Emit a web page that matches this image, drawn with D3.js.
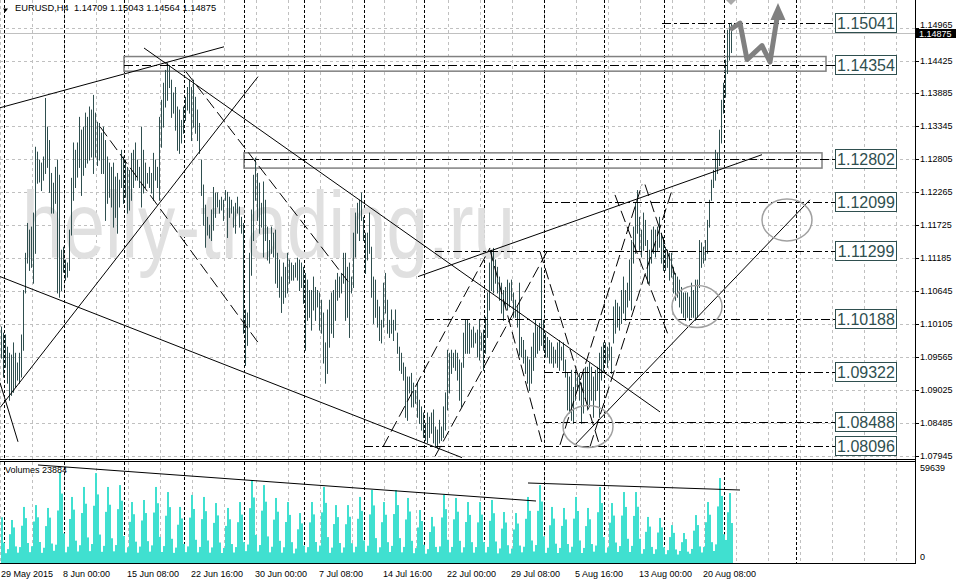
<!DOCTYPE html>
<html>
<head>
<meta charset="utf-8">
<script src="https://cdn.jsdelivr.net/npm/d3@7"></script>
<style>
body { margin: 0; background: #fff; }
svg { display: block; }
</style>
</head>
<body>
<script>
// EURUSD H4 bars, 29 May 2015 16:00 .. 24 Aug 2015 12:00
var highs = [1.1006,1.0996,1.0993,1.0973,1.0963,1.0960,1.0980,1.0963,1.0947,1.0963,1.0993,1.1066,1.1127,1.1176,1.1165,1.1170,1.1193,1.1301,1.1293,1.1280,1.1275,1.1285,1.1381,1.1334,1.1312,
1.1258,1.1242,1.1268,1.1280,1.1255,1.1132,1.1137,1.1116,1.1111,1.1165,1.1250,1.1308,1.1296,1.1308,1.1350,1.1329,1.1334,1.1357,1.1350,1.1367,1.1362,1.1386,1.1357,1.1342,1.1340,
1.1324,1.1334,1.1312,1.1285,1.1275,1.1268,1.1275,1.1252,1.1258,1.1247,1.1296,1.1285,1.1280,1.1268,1.1263,1.1291,1.1296,1.1308,1.1280,1.1268,1.1334,1.1296,1.1275,1.1258,1.1268,
1.1258,1.1291,1.1280,1.1268,1.1350,1.1378,1.1406,1.1427,1.1439,1.1435,1.1411,1.1390,1.1399,1.1367,1.1362,1.1345,1.1367,1.1383,1.1399,1.1411,1.1399,1.1411,1.1383,1.1362,1.1340,
1.1280,1.1239,1.1206,1.1186,1.1173,1.1198,1.1235,1.1226,1.1226,1.1214,1.1219,1.1214,1.1230,1.1227,1.1219,1.1214,1.1203,1.1209,1.1219,1.1203,1.1186,1.1176,1.1034,1.1029,1.1127,
1.1198,1.1255,1.1283,1.1258,1.1242,1.1209,1.1244,1.1214,1.1170,1.1148,1.1170,1.1160,1.1165,1.1127,1.1116,1.1088,1.1111,1.1104,1.1127,1.1116,1.1111,1.1107,1.1111,1.1119,1.1116,
1.1111,1.1104,1.1094,1.1083,1.1066,1.1066,1.1088,1.1071,1.1066,1.1062,1.1050,1.1029,1.0980,1.1034,1.1050,1.1062,1.1066,1.1083,1.1094,1.1088,1.1094,1.1127,1.1127,1.1104,1.1111,
1.1088,1.1160,1.1193,1.1209,1.1214,1.1226,1.1186,1.1160,1.1160,1.1193,1.1137,1.1088,1.1083,1.1050,1.1039,1.1017,1.1078,1.1094,1.1050,1.1017,1.1034,1.1017,1.1034,1.0996,1.0973,
1.0963,1.0947,1.0940,1.0924,1.0924,1.0930,1.0914,1.0902,1.0914,1.0886,1.0875,1.0865,1.0848,1.0865,1.0858,1.0865,1.0870,1.0842,1.0837,1.0853,1.0842,1.0875,1.0898,1.0968,1.0963,
1.0968,1.0963,1.0968,1.0963,1.0952,1.0947,1.0996,1.1017,1.1017,1.1012,1.1001,1.1006,1.0996,1.1001,1.1017,1.0996,1.1001,1.1022,1.1062,1.1111,1.1132,1.1135,1.1116,1.1104,1.1088,
1.1078,1.1066,1.1071,1.1083,1.1078,1.1083,1.1062,1.1050,1.1039,1.1078,1.0989,1.0984,1.0968,1.0957,1.0952,1.0973,1.0996,1.1017,1.1006,1.1012,1.1103,1.1017,1.0996,1.0989,1.0984,
1.0980,1.0973,1.0968,1.0980,1.0984,1.0973,1.0980,1.0952,1.0930,1.0924,1.0935,1.0907,1.0935,1.0924,1.0930,1.0914,1.0930,1.0940,1.0940,1.0947,1.0940,1.0924,1.0935,1.0940,1.0963,
1.0973,1.0980,1.0980,1.0973,1.0980,1.0973,1.1039,1.1050,1.1045,1.1039,1.1066,1.1088,1.1066,1.1078,1.1116,1.1148,1.1170,1.1209,1.1230,1.1186,1.1165,1.1193,1.1181,1.1148,1.1132,
1.1165,1.1170,1.1165,1.1170,1.1186,1.1160,1.1153,1.1137,1.1132,1.1127,1.1127,1.1104,1.1094,1.1088,1.1083,1.1071,1.1062,1.1062,1.1062,1.1055,1.1078,1.1066,1.1083,1.1083,1.1148,
1.1144,1.1137,1.1148,1.1181,1.1214,1.1247,1.1263,1.1296,1.1291,1.1329,1.1378,1.1406,1.1444,1.1493,1.1503,1.15043];

var lows = [1.0955,1.0924,1.0940,1.0914,1.0886,1.0894,1.0899,1.0907,1.0919,1.0914,1.0924,1.0968,1.1062,1.1111,1.1099,1.1104,1.1078,1.1127,1.1242,1.1244,1.1230,1.1247,1.1258,1.1268,1.1227,
1.1193,1.1193,1.1209,1.1062,1.1055,1.1066,1.1096,1.1083,1.1088,1.1099,1.1157,1.1214,1.1235,1.1252,1.1268,1.1222,1.1255,1.1268,1.1275,1.1280,1.1285,1.1258,1.1285,1.1271,1.1280,
1.1258,1.1258,1.1181,1.1209,1.1219,1.1203,1.1170,1.1186,1.1160,1.1203,1.1235,1.1209,1.1219,1.1193,1.1198,1.1214,1.1235,1.1247,1.1247,1.1235,1.1203,1.1226,1.1235,1.1242,1.1235,
1.1226,1.1214,1.1247,1.1235,1.1214,1.1301,1.1334,1.1367,1.1378,1.1399,1.1350,1.1357,1.1329,1.1296,1.1291,1.1308,1.1324,1.1345,1.1362,1.1357,1.1312,1.1334,1.1324,1.1312,1.1291,
1.1222,1.1173,1.1137,1.1157,1.1152,1.1148,1.1165,1.1186,1.1203,1.1193,1.1198,1.1181,1.1214,1.1153,1.1186,1.1193,1.1170,1.1160,1.1193,1.1170,1.1160,1.0996,1.0943,1.0976,1.1006,
1.1091,1.1148,1.1214,1.1181,1.1160,1.1170,1.1121,1.1148,1.1116,1.1111,1.1127,1.1121,1.1078,1.1071,1.1055,1.1030,1.1045,1.1055,1.1062,1.1078,1.1083,1.1083,1.1088,1.1083,1.1066,
1.1071,1.1045,1.0968,1.1017,1.1022,1.1001,1.1034,1.1017,1.1039,1.1001,1.0996,1.0947,1.0914,1.0930,1.0973,1.0996,1.0989,1.1017,1.1050,1.1055,1.1062,1.1078,1.1017,1.1022,1.0989,
1.1062,1.1071,1.1121,1.1160,1.1148,1.1181,1.1148,1.1094,1.1116,1.1127,1.1055,1.1012,1.1022,1.1006,1.0984,1.0980,1.1006,1.1029,1.0996,1.0989,1.0996,1.0984,1.1001,1.0963,1.0935,
1.0930,1.0919,1.0858,1.0853,1.0898,1.0875,1.0875,1.0881,1.0858,1.0848,1.0837,1.0825,1.0820,1.0816,1.0825,1.0832,1.0816,1.0809,1.0807,1.0816,1.0820,1.0825,1.0837,1.0870,1.0898,
1.0930,1.0940,1.0935,1.0919,1.0886,1.0875,1.0940,1.0963,1.0963,1.0963,1.0973,1.0973,1.0980,1.0957,1.0952,1.0968,1.0935,1.0963,1.0989,1.1034,1.1066,1.1062,1.1078,1.1062,1.1050,
1.1029,1.1017,1.1039,1.1034,1.1039,1.1050,1.1022,1.1022,1.1006,1.0960,1.0957,1.0947,1.0930,1.0914,1.0902,1.0914,1.0935,1.0957,1.0963,1.0968,1.0976,1.0968,1.0957,1.0957,1.0947,
1.0947,1.0940,1.0947,1.0940,1.0935,1.0952,1.0935,1.0924,1.0870,1.0865,1.0853,1.0848,1.0886,1.0902,1.0886,1.0848,1.0865,1.0886,1.0870,1.0875,1.0886,1.0858,1.0886,1.0902,1.0858,
1.0919,1.0935,1.0947,1.0940,1.0952,1.0930,1.0980,1.0996,1.1006,1.1001,1.1012,1.1029,1.1017,1.1039,1.1050,1.1034,1.1111,1.1127,1.1160,1.1132,1.1121,1.1132,1.1140,1.1078,1.1078,
1.1111,1.1127,1.1121,1.1132,1.1137,1.1111,1.1099,1.1099,1.1104,1.1083,1.1088,1.1062,1.1050,1.1055,1.1039,1.1029,1.1022,1.1017,1.1022,1.1017,1.1022,1.1022,1.1017,1.1022,1.1071,
1.1104,1.1111,1.1116,1.1127,1.1170,1.1214,1.1235,1.1247,1.1258,1.1271,1.1308,1.1357,1.1383,1.1422,1.1444,1.14564];

var volumes = [27000,12000,
5800,8200,17000,25400,21000,9800, 6100,9400,22000,33100,26500,11800, 6400,9900,24500,34200,27000,12400,
6000,9000,21800,32500,26800,11500, 7200,10800,31000,53700,41000,17500, 6300,9600,26000,39000,31500,13200,
6800,10500,29500,44900,35000,15100, 7000,11200,33800,53100,40500,16800, 6600,10100,30200,44900,34400,14600,
6900,10600,31800,46000,36800,15900, 6200,9300,24300,36000,28800,12600, 6100,9700,25100,37200,29500,12900,
6700,10400,29800,44900,35300,15400, 6500,10000,27900,41900,33000,14300, 6000,9100,22600,33100,26300,11300,
6400,9800,26800,40200,31900,13700, 6300,9500,25900,39000,30600,13300, 6100,9200,23700,35400,28100,12100,
5900,8900,21900,32500,25800,11200, 6200,9400,24100,36000,28600,12300, 7000,10900,32400,49000,38700,16600,
6800,10600,30900,46000,36200,15700, 6300,9600,25600,38400,30300,13100, 6100,9300,24200,36000,28400,12300,
5700,8500,19900,29500,23400,10300, 6200,9400,24000,36000,28700,12400, 6700,10300,29900,44900,35500,15300,
6000,9100,23000,34200,27100,11800, 6100,9200,22900,34200,27300,11700, 6300,9600,26100,39000,30800,13300,
6600,10200,28700,43100,34000,14700, 6200,9300,24100,36000,28500,12300, 6500,10100,28900,43100,34200,14700,
6300,9500,25700,38400,30400,13100, 5800,8800,21000,31300,24800,10800, 5500,8200,18300,27200,21600,9500,
6400,9800,26900,40200,31800,13700, 6300,9500,25800,38400,30300,13100, 6200,9300,24200,36000,28400,12300,
6100,9400,24000,36000,28600,12300, 6200,9500,24900,37200,29400,12700, 5700,8600,20300,30100,23900,10500,
5600,8500,19800,29500,23300,10300, 6300,9600,26100,39000,30800,13300, 6800,10600,30800,46000,36300,15700,
6000,9000,22300,33100,26200,11400, 5900,8900,21900,32500,25700,11200, 6300,9600,26200,39000,30700,13300,
5900,8900,21800,32500,25800,11200, 6700,10300,30000,44900,35400,15300, 6100,9200,23800,35400,28000,12100,
6500,10000,28000,41900,33100,14300, 6500,10100,27800,41900,33200,14300, 5500,8200,18400,27200,21500,9500,
5400,8100,18000,26600,21000,9300, 5200,7600,15300,22400,17800,8000, 5000,7100,12300,17700,14100,6700,
5500,8300,19100,28300,22400,9800, 6200,9400,24100,36000,28500,12300, 7100,11000,33400,50200,39600,17000,
13600,30000,41300,23600];

var axisPrices = [1.14965,1.14425,1.13885,1.13345,1.12805,1.12265,1.11725,1.11185,1.10645,1.10105,1.09565,1.09025,1.08485,1.07945];
var timeLabels = ["29 May 2015","8 Jun 00:00","15 Jun 08:00","22 Jun 16:00","30 Jun 00:00","7 Jul 08:00","14 Jul 16:00","22 Jul 00:00","29 Jul 08:00","5 Aug 16:00","13 Aug 00:00","20 Aug 08:00"];
var timeLabelBars = [0,32,64,96,128,160,192,224,256,288,320,352];
var weekStarts = [2,32,62,92,122,152,182,212,242,272,302,332,362,398];

var levelPrices = [1.15041,1.14354,1.12802,1.12099,1.11299,1.10188,1.09322,1.08488,1.08096];
var levelStartBars = [330.5,61.5,121.5,271,217,212,271.5,271,181.5];

// zones drawn as rectangles: [bar1, price1, bar2, price2]
var zones = [[61.5,1.1449,412.5,1.1425],[121.5,1.1291,410.5,1.1266]];
// trend lines: [bar1, price1, bar2, price2]
var solidLines = [[-0.5,1.1365,111.5,1.1465],[-0.5,1.1088,230.5,1.0791],[-0.5,1.0873,128.5,1.1416],
  [-0.5,1.0914,8.5,1.0817],[71.5,1.1463,329.5,1.0866],[208.5,1.1088,380.5,1.1288],[287,1.0812,404.5,1.1214]];
var dashedLines = [[92.5,1.1424,173.5,1.1080],[49.5,1.1334,128.5,1.0980],[191,1.0809,244.5,1.1135],
  [217,1.0793,273,1.1129],[244.5,1.1132,271,1.0809],[269.5,1.1129,299.5,1.0809],[279.5,1.0812,320.5,1.1239],
  [294.5,1.0809,335.5,1.1230],[307,1.1222,333.5,1.0993],[322,1.1239,337,1.1091]];
var circles = [[293.5,1.0842],[348,1.1039],[393,1.1181]];
var forecast = [[364.5,1.1493],[369.5,1.1504],[373,1.1444],[380.5,1.1467],[384.5,1.1440],[388,1.1512]];
var forecastTip = [388.5,1.1537];
// volume trend lines: [bar1, vol1, bar2, vol2]
var volumeLines = [[18.5,57870,267.5,36610],[263.5,47240,369.5,43110]];

var lastBar = {open: 1.14709, high: 1.15043, low: 1.14564, close: 1.14875};
var volumeMax = 59639;
var volumeLast = 23884;

var width = 956;
var height = 580;
var plotRight = 915;
var mainBottom = 459;
var volTop = 462;
var volBottom = 563;
var font = "Liberation Sans, Arial, sans-serif";

var svg = d3.select("body").append("svg")
    .attr("width", width)
    .attr("height", height);

var xScale = d3.scaleLinear().domain([0, 1]).range([1, 3]);
var yScale = d3.scaleLinear().domain([1.07945, 1.14425]).range([455.5, 60.5]);
var vScale = d3.scaleLinear().domain([0, volumeMax]).range([volBottom, volTop]);

var defs = svg.append("defs");
defs.append("clipPath").attr("id", "clipMain").append("rect")
    .attr("x", 0).attr("y", 0).attr("width", plotRight).attr("height", mainBottom);
defs.append("clipPath").attr("id", "clipVol").append("rect")
    .attr("x", 0).attr("y", volTop).attr("width", plotRight).attr("height", volBottom - volTop);

function sepX(i) {
    return 2 * i + 0.5;
}

// grids in both panels
function drawGrid(g, top, bottom) {
    g.selectAll(".vgrid").data(d3.range(0, 450, 16)).enter().append("line")
        .attr("x1", sepX).attr("x2", sepX)
        .attr("y1", top).attr("y2", bottom)
        .attr("stroke", "#c0c0c0")
        .attr("stroke-dasharray", "3,3");
    g.selectAll(".sep").data(weekStarts).enter().append("line")
        .attr("x1", sepX).attr("x2", sepX)
        .attr("y1", top).attr("y2", bottom)
        .attr("stroke", "#000")
        .attr("stroke-dasharray", "3,2");
}

var mainG = svg.append("g").attr("clip-path", "url(#clipMain)");
var volG = svg.append("g").attr("clip-path", "url(#clipVol)");

mainG.selectAll(".hgrid").data(axisPrices).enter().append("line")
    .attr("x1", 0).attr("x2", plotRight)
    .attr("y1", function(d) { return Math.round(yScale(d)) + 0.5; })
    .attr("y2", function(d) { return Math.round(yScale(d)) + 0.5; })
    .attr("stroke", "#c0c0c0")
    .attr("stroke-dasharray", "3,3");
drawGrid(mainG, 0, mainBottom);
drawGrid(volG, volTop, volBottom);

// watermark
mainG.append("text")
    .attr("x", 22).attr("y", 258)
    .attr("font-family", font)
    .attr("font-size", 95)
    .attr("textLength", 493)
    .attr("lengthAdjust", "spacingAndGlyphs")
    .attr("fill", "#e0e0e0")
    .text("helly-trading.ru");

// bid line
mainG.append("line")
    .attr("x1", 0).attr("x2", plotRight)
    .attr("y1", Math.round(yScale(lastBar.close)) + 0.5)
    .attr("y2", Math.round(yScale(lastBar.close)) + 0.5)
    .attr("stroke", "#c0c0c0");

// zones
mainG.selectAll(".zone").data(zones).enter().append("rect")
    .attr("x", function(d) { return xScale(d[0]); })
    .attr("y", function(d) { return yScale(d[1]); })
    .attr("width", function(d) { return xScale(d[2]) - xScale(d[0]); })
    .attr("height", function(d) { return yScale(d[3]) - yScale(d[1]); })
    .attr("fill", "none")
    .attr("stroke", "#808080")
    .attr("stroke-width", 1.5);

// price bars
mainG.selectAll(".bar").data(highs).enter().append("line")
    .attr("x1", function(d, i) { return xScale(i) + 0.5; })
    .attr("x2", function(d, i) { return xScale(i) + 0.5; })
    .attr("y1", function(d) { return yScale(d); })
    .attr("y2", function(d, i) { return yScale(lows[i]) + 1; })
    .attr("stroke", "#2f4f4f");

// levels
var levelBoxX = 835;
mainG.selectAll(".level").data(levelPrices).enter().append("line")
    .attr("x1", function(d, i) { return xScale(levelStartBars[i]); })
    .attr("x2", levelBoxX)
    .attr("y1", function(d) { return Math.round(yScale(d)) + 0.5; })
    .attr("y2", function(d) { return Math.round(yScale(d)) + 0.5; })
    .attr("stroke", "#000")
    .attr("stroke-dasharray", "9,3,3,3");

function drawLines(data, dash) {
    mainG.selectAll(null).data(data).enter().append("line")
        .attr("x1", function(d) { return xScale(d[0]); })
        .attr("y1", function(d) { return yScale(d[1]); })
        .attr("x2", function(d) { return xScale(d[2]); })
        .attr("y2", function(d) { return yScale(d[3]); })
        .attr("stroke", "#000")
        .attr("stroke-dasharray", dash);
}
drawLines(solidLines, null);
drawLines(dashedLines, "12,5");

mainG.selectAll(".circle").data(circles).enter().append("ellipse")
    .attr("cx", function(d) { return xScale(d[0]); })
    .attr("cy", function(d) { return yScale(d[1]); })
    .attr("rx", 25).attr("ry", 21)
    .attr("fill", "none")
    .attr("stroke", "#a0a0a0")
    .attr("stroke-width", 1.5);

// forecast arrow
var fLine = d3.line()
    .x(function(d) { return xScale(d[0]); })
    .y(function(d) { return yScale(d[1]); });
mainG.append("path")
    .attr("d", fLine(forecast))
    .attr("fill", "none")
    .attr("stroke", "#808080")
    .attr("stroke-width", 5)
    .attr("stroke-linejoin", "round");
var tipX = xScale(forecastTip[0]);
var tipY = yScale(forecastTip[1]);
mainG.append("path")
    .attr("d", "M" + tipX + "," + tipY + "L" + (tipX + 7.5) + "," + (tipY + 17) + "L" + (tipX - 7.5) + "," + (tipY + 17) + "Z")
    .attr("fill", "#808080");
mainG.append("path")
    .attr("d", "M726,0L736,0L731,5Z")
    .attr("fill", "#a9a9a9");

// level labels
var labelG = svg.append("g");
labelG.selectAll(".lbox").data(levelPrices).enter().append("rect")
    .attr("x", levelBoxX + 0.5)
    .attr("y", function(d) { return Math.round(yScale(d)) - 9.5; })
    .attr("width", 61).attr("height", 19)
    .attr("fill", "#fff")
    .attr("stroke", "#2f4f4f");
labelG.selectAll(".ltext").data(levelPrices).enter().append("text")
    .attr("x", levelBoxX + 31)
    .attr("y", function(d) { return Math.round(yScale(d)) + 6; })
    .attr("text-anchor", "middle")
    .attr("font-family", font)
    .attr("font-size", 16)
    .attr("fill", "#2f4f4f")
    .text(function(d) { return d.toFixed(5); });

// volumes
volG.selectAll(".vol").data(volumes).enter().append("rect")
    .attr("x", function(d, i) { return xScale(i); })
    .attr("y", function(d) { return vScale(d); })
    .attr("width", 2)
    .attr("height", function(d) { return volBottom - vScale(d); })
    .attr("fill", "#40e0d0");
volG.selectAll(".vline").data(volumeLines).enter().append("line")
    .attr("x1", function(d) { return xScale(d[0]); })
    .attr("y1", function(d) { return vScale(d[1]); })
    .attr("x2", function(d) { return xScale(d[2]); })
    .attr("y2", function(d) { return vScale(d[3]); })
    .attr("stroke", "#000");

// frames
svg.append("line").attr("x1", plotRight + 0.5).attr("x2", plotRight + 0.5).attr("y1", 0).attr("y2", volBottom + 1).attr("stroke", "#000");
[mainBottom + 0.5, volTop - 0.5, volBottom + 0.5].forEach(function(yy) {
    svg.append("line").attr("x1", 0).attr("x2", plotRight).attr("y1", yy).attr("y2", yy).attr("stroke", "#000");
});

// price axis
var cy = Math.round(yScale(lastBar.close));
var axisG = svg.append("g").attr("font-family", font).attr("font-size", 9);
axisG.selectAll(".tick").data(axisPrices).enter().append("line")
    .attr("x1", plotRight).attr("x2", plotRight + 4)
    .attr("y1", function(d) { return Math.round(yScale(d)) + 0.5; })
    .attr("y2", function(d) { return Math.round(yScale(d)) + 0.5; })
    .attr("stroke", "#000");
axisG.selectAll(".plabel").data(axisPrices).enter().append("text")
    .attr("x", 920)
    .attr("y", function(d) {
        var ty = yScale(d) + 3;
        // keep the label clear of the current price box
        if (Math.abs(yScale(d) - cy) < 10) ty = Math.min(ty, cy - 5.5);
        return ty;
    })
    .text(function(d) { return d.toFixed(5); });

axisG.append("rect").attr("x", 916).attr("y", cy - 4).attr("width", 40).attr("height", 9).attr("fill", "#000");
axisG.append("text").attr("x", 919).attr("y", cy + 3.5).attr("fill", "#fff").text(lastBar.close.toFixed(5));

axisG.append("text").attr("x", 920).attr("y", volTop + 9).text(volumeMax);
axisG.append("text").attr("x", 920).attr("y", volBottom - 3).text("0");
axisG.append("text").attr("x", 5).attr("y", volTop + 11).text("Volumes " + volumeLast);

// time axis
axisG.selectAll(".tlabel").data(timeLabels).enter().append("text")
    .attr("x", function(d, i) { return Math.max(1, xScale(timeLabelBars[i]) - 2); })
    .attr("y", 577)
    .text(function(d) { return d; });

// header
svg.append("path").attr("d", "M3,8.5L8,8.5L5.5,12Z").attr("fill", "#000");
svg.append("text")
    .attr("x", 15).attr("y", 11)
    .attr("font-family", font)
    .attr("font-size", 9.3)
    .style("white-space", "pre")
    .text("EURUSD,H4  " + lastBar.open.toFixed(5) + " " + lastBar.high.toFixed(5) + " " + lastBar.low.toFixed(5) + " " + lastBar.close.toFixed(5));
</script>
</body>
</html>
